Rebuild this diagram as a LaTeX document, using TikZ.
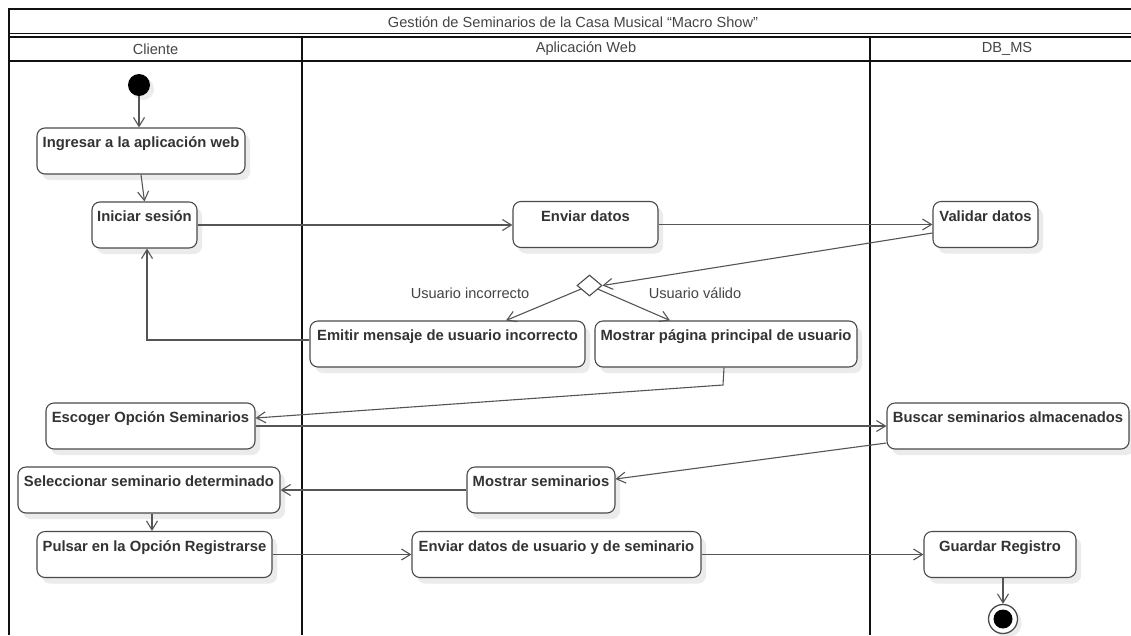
\documentclass[tikz,border=0pt]{standalone}
\usepackage{fontspec}
\setmainfont{Liberation Sans}
\usetikzlibrary{arrows.meta,shapes.geometric,shadows}
\definecolor{frameclr}{HTML}{111111}
\definecolor{boxline}{HTML}{4A4A4A}
\definecolor{flowline}{HTML}{555555}
\definecolor{labeltext}{HTML}{454545}
\definecolor{boxtext}{HTML}{333333}
\definecolor{shade}{HTML}{EBEBEB}
\tikzset{
  frame/.style={draw=frameclr, line width=1.8pt},
  lanetitle/.style={font=\fontsize{14.6}{17}\selectfont, text=labeltext, inner sep=0pt},
  action/.style={draw=boxline, line width=1.1pt, fill=white, rounded corners=8pt,
    inner xsep=2pt, inner ysep=0pt, text height=19.5pt, text depth=26.5pt,
    font=\bfseries\fontsize{14.8}{17}\selectfont, text=boxtext,
    drop shadow={shadow xshift=5pt, shadow yshift=-6pt, fill=shade, opacity=1}},
  flow/.style={draw=flowline, line width=1.1pt,
    -{Straight Barb[length=9pt,width=11pt,line width=1.1pt]}},
  plainflow/.style={draw=flowline, line width=1.1pt},
  guard/.style={font=\fontsize{14.6}{17}\selectfont, text=labeltext, inner sep=0pt},
}
\begin{document}
\begin{tikzpicture}[x=1pt,y=-1pt]
\useasboundingbox (0,0) rectangle (1131,635);
\fill[white] (0,0) rectangle (1131,635);

% swimlane frame
\draw[frame] (9,635) -- (9,9) -- (1131,9);
\draw[frame] (9,33.5) -- (1131,33.5);
\draw[frame] (9,37) -- (1131,37);
\draw[frame] (9,61) -- (1131,61);
\draw[frame] (302,37) -- (302,635);
\draw[frame] (870,37) -- (870,635);

\node[lanetitle] (title) at (573,22) {Gestión de Seminarios de la Casa Musical “Macro Show”};
\node[lanetitle] (lanecliente) at (155.5,49) {Cliente};
\node[lanetitle] (laneweb) at (586,49) {Aplicación Web};
\node[lanetitle] (lanedb) at (1007,49) {DB\_MS};

% initial node
\node[circle, fill=black, minimum size=22pt, inner sep=0pt,
  drop shadow={shadow xshift=4pt, shadow yshift=-4pt, fill=shade, opacity=1}] (start) at (139,85) {};

% actions
\node[action, minimum width=208pt] (ingresar) at (141,151) {Ingresar a la aplicación web};
\node[action, minimum width=105pt] (iniciar) at (144.5,225) {Iniciar sesión};
\node[action, minimum width=145pt] (enviar) at (585.5,224.5) {Enviar datos};
\node[action, minimum width=105pt] (validar) at (985.5,224.5) {Validar datos};
\node[action, minimum width=275pt] (emitir) at (447.5,344) {Emitir mensaje de usuario incorrecto};
\node[action, minimum width=262pt] (principal) at (726,344) {Mostrar página principal de usuario};
\node[action, minimum width=209pt] (escoger) at (150.5,426) {Escoger Opción Seminarios};
\node[action, minimum width=242pt] (buscar) at (1008,426) {Buscar seminarios almacenados};
\node[action, minimum width=262pt] (seleccionar) at (149,490) {Seleccionar seminario determinado};
\node[action, minimum width=148pt] (mostrarsem) at (541,490) {Mostrar seminarios};
\node[action, minimum width=235pt] (pulsar) at (154.5,554.5) {Pulsar en la Opción Registrarse};
\node[action, minimum width=289pt] (enviarreg) at (556.5,554.5) {Enviar datos de usuario y de seminario};
\node[action, minimum width=152pt] (guardar) at (1000,554.5) {Guardar Registro};

% decision
\node[diamond, draw=boxline, line width=1.1pt, fill=white, minimum width=25pt,
  minimum height=21pt, inner sep=0pt] (decision) at (589.5,285.5) {};
\node[guard] (lblbad) at (470,293) {Usuario incorrecto};
\node[guard] (lblok) at (695,293) {Usuario válido};

% final node
\node[circle, draw=boxline, line width=1.3pt, fill=white, minimum size=29pt, inner sep=0pt,
  drop shadow={shadow xshift=4pt, shadow yshift=-4pt, fill=shade, opacity=1}] (finish) at (1003,619) {};
\node[circle, fill=black, minimum size=19pt, inner sep=0pt] (finishdot) at (finish) {};

% control flows
\draw[flow] (start) -- (start |- ingresar.north);
\draw[flow] (ingresar.south) -- (iniciar.north);
\draw[flow] (iniciar.east) -- (iniciar.east -| enviar.west);
\draw[flow] (enviar.east) -- (enviar.east -| validar.west);
\draw[flow] ([yshift=-8.5pt]validar.west) -- (decision.east);
\draw[flow] (decision) -- ([xshift=58.5pt]emitir.north);
\draw[flow] (decision) -- ([xshift=-56pt]principal.north);
\draw[flow] ([yshift=4pt]emitir.west) -| ([xshift=2.5pt]iniciar.south);
\coordinate (bend) at (723,385);
\draw[flow] ([xshift=-2pt]principal.south) -- (bend) -- ([yshift=8pt]escoger.east);
\draw[flow] (escoger.east) -- (buscar.west);
\draw[flow] ([yshift=-17pt]buscar.west) -- ([yshift=11pt]mostrarsem.east);
\draw[flow] (mostrarsem.west) -- (seleccionar.east);
\draw[flow] ([xshift=3pt]seleccionar.south) -- ([xshift=3pt]seleccionar.south |- pulsar.north);
\draw[flow] (pulsar.east) -- (enviarreg.west);
\draw[flow] (enviarreg.east) -- (enviarreg.east -| guardar.west);
\draw[flow] (guardar.south -| finish) -- (finish.north);
\end{tikzpicture}
\end{document}
